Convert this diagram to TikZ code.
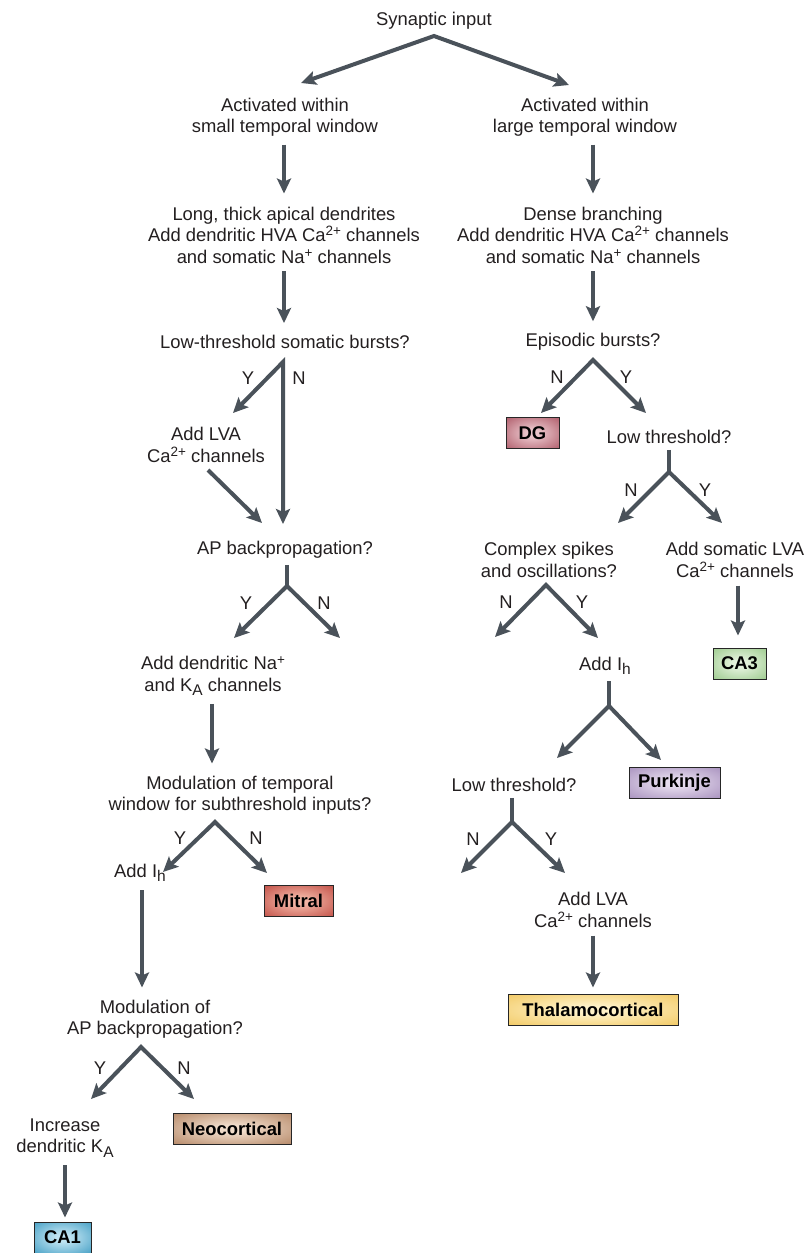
\documentclass[tikz,border=0pt]{standalone}
\usepackage{fontspec}
\setmainfont{Liberation Sans}
\usetikzlibrary{arrows.meta}
\definecolor{arrcol}{HTML}{4A525A}
\definecolor{txtcol}{HTML}{231F20}
\definecolor{dgout}{HTML}{A8505F}
\definecolor{dgin}{HTML}{EAC4CA}
\definecolor{miout}{HTML}{BC443C}
\definecolor{miin}{HTML}{F2B4A4}
\definecolor{neout}{HTML}{AE7E5C}
\definecolor{nein}{HTML}{F0DCCA}
\definecolor{caout}{HTML}{3898C0}
\definecolor{cain}{HTML}{C0E4F2}
\definecolor{cbout}{HTML}{94C684}
\definecolor{cbin}{HTML}{E4F2DC}
\definecolor{pkout}{HTML}{A088B8}
\definecolor{pkin}{HTML}{E6DCEE}
\definecolor{thout}{HTML}{F0C458}
\definecolor{thin}{HTML}{FFF2C8}
\colorlet{shin}{white}
\colorlet{shout}{gray}
\pgfdeclareradialshading[shin,shout]{boxglow}{\pgfpoint{0bp}{0bp}}{color(0bp)=(shin); color(6bp)=(shin); color(40bp)=(shout); color(50bp)=(shout)}
\newcommand\upsup[1]{\raisebox{0.6ex}{\fontsize{13.5}{13.5}\selectfont #1}}
\newcommand\lowsub[1]{\raisebox{-0.45ex}{\fontsize{15.5}{15.5}\selectfont #1}}

\begin{document}
\begin{tikzpicture}[x=1pt,y=-1pt,
  every node/.style={font=\fontsize{18.4}{21.5}\selectfont, text=txtcol},
  txt/.style={align=center, inner sep=0pt},
  yn/.style={inner sep=0pt},
  box/.style={draw=black!85, line width=1pt, font=\fontsize{18.4}{21.5}\selectfont\bfseries, text=black, minimum height=31pt, inner sep=0pt},
  glow/.style 2 args={/utils/exec={\colorlet{shin}{#1}\colorlet{shout}{#2}}, shading=boxglow},
  arr/.style={draw=arrcol, line width=4pt, -{Stealth[length=15pt,width=14pt,inset=3pt]}},
  arrs/.style={draw=arrcol, line width=4pt, {Stealth[length=15pt,width=14pt,inset=3pt]}-{Stealth[length=15pt,width=14pt,inset=3pt]}},
  stem/.style={draw=arrcol, line width=4pt},
  ]
    \useasboundingbox (0,0) rectangle (804,1253);

    \node[txt] (in) at (434,21) {Synaptic input};
    \node[txt] (win1) at (285,117) {Activated within\\small temporal window};
    \node[txt] (win2) at (585,117) {Activated within\\large temporal window};
    \node[txt] (dend1) at (284,235) {Long, thick apical dendrites\\Add dendritic HVA Ca\upsup{2+} channels\\and somatic Na\upsup{+} channels};
    \node[txt] (dend2) at (593,235) {Dense branching\\Add dendritic HVA Ca\upsup{2+} channels\\and somatic Na\upsup{+} channels};
    \node[txt] (sb) at (285,342) {Low-threshold somatic bursts?};
    \node[txt] (lva1) at (206,445) {Add LVA\\Ca\upsup{2+} channels};
    \node[txt] (bap) at (285,550) {AP backpropagation?};
    \node[txt] (na) at (213,676) {Add dendritic Na\upsup{+}\\and K\lowsub{A} channels};
    \node[txt] (modt) at (240,795) {Modulation of temporal\\window for subthreshold inputs?};
    \node[txt] (ih1) at (140,873) {Add I\lowsub{h}};
    \node[txt] (moda) at (155,1019) {Modulation of\\AP backpropagation?};
    \node[txt] (ka) at (65,1138) {Increase\\dendritic K\lowsub{A}};
    \node[txt] (epi) at (593,342) {Episodic bursts?};
    \node[txt] (low1) at (669,437) {Low threshold?};
    \node[txt] (cs) at (549,560) {Complex spikes\\and oscillations?};
    \node[txt] (lva2) at (735,560) {Add somatic LVA\\Ca\upsup{2+} channels};
    \node[txt] (ih2) at (605,666) {Add I\lowsub{h}};
    \node[txt] (low2) at (514,785) {Low threshold?};
    \node[txt] (lva3) at (593,910) {Add LVA\\Ca\upsup{2+} channels};

    \node[box, minimum width=69pt, glow={miin}{miout}] (mitral) at (298.5,901) {Mitral};
    \node[box, minimum width=118pt, glow={nein}{neout}] (neo) at (232,1128.5) {Neocortical};
    \node[box, minimum width=57pt, glow={cain}{caout}] (ca1) at (62.5,1237.5) {CA1};
    \node[box, minimum width=53pt, glow={dgin}{dgout}] (dg) at (532.5,433) {DG};
    \node[box, minimum width=53pt, glow={cbin}{cbout}] (ca3) at (739.5,663.5) {CA3};
    \node[box, minimum width=91pt, glow={pkin}{pkout}] (pk) at (674.5,782.5) {Purkinje};
    \node[box, minimum width=170pt, glow={thin}{thout}] (thal) at (593,1009.5) {Thalamocortical};

    \coordinate (a0) at (434,36);
    \coordinate (a0l) at (301,83);
    \coordinate (a0r) at (569,85);
    \coordinate (a1) at (283,362);
    \coordinate (a1y) at (233,413);
    \coordinate (a1n) at (283,524);
    \coordinate (d0) at (208,470);
    \coordinate (d1) at (262,523);
    \coordinate (j2) at (287,586);
    \coordinate (a2y) at (234,638);
    \coordinate (a2n) at (340,638);
    \coordinate (a3) at (215,822);
    \coordinate (a3y) at (163,872);
    \coordinate (a3n) at (267,873);
    \coordinate (a4) at (141,1047);
    \coordinate (a4y) at (91,1099);
    \coordinate (a4n) at (194,1099);
    \coordinate (b1) at (593,360);
    \coordinate (b1n) at (541,413);
    \coordinate (b1y) at (646,413);
    \coordinate (j5) at (669,472);
    \coordinate (b2n) at (618,523);
    \coordinate (b2y) at (722,523);
    \coordinate (b3) at (546,585);
    \coordinate (b3n) at (495,637);
    \coordinate (b3y) at (598,638);
    \coordinate (j6) at (609,706);
    \coordinate (b4l) at (557,758);
    \coordinate (b4r) at (661,760);
    \coordinate (j7) at (512,822);
    \coordinate (b5n) at (461,873);
    \coordinate (b5y) at (565,873);
    \coordinate (xna) at (212,0);
    \coordinate (xih) at (142,0);
    \coordinate (xlv) at (738,0);

    \node[yn] (y1) at (248,378) {Y};
    \node[yn] (n1) at (299,378) {N};
    \node[yn] (y2) at (246,603) {Y};
    \node[yn] (n2) at (324,603) {N};
    \node[yn] (y3) at (180,838) {Y};
    \node[yn] (n3) at (256,838) {N};
    \node[yn] (y4) at (100,1068) {Y};
    \node[yn] (n4) at (184,1068) {N};
    \node[yn] (n5) at (557,377) {N};
    \node[yn] (y5) at (626,377) {Y};
    \node[yn] (n6) at (631,490) {N};
    \node[yn] (y6) at (705,490) {Y};
    \node[yn] (n7) at (506,602) {N};
    \node[yn] (y7) at (582,602) {Y};
    \node[yn] (n8) at (473,839) {N};
    \node[yn] (y8) at (551,839) {Y};

    \draw[arrs] (a0l) -- (a0) -- (a0r);
    \draw[arr, shorten <=8pt, shorten >=13pt] (win1.south -| dend1) -- (dend1);
    \draw[arr, shorten <=8pt, shorten >=13pt] (win2.south -| dend2) -- (dend2);
    \draw[arr, shorten <=8pt, shorten >=12pt] (dend1) -- (sb.north -| dend1);
    \draw[arr, shorten <=8pt, shorten >=12pt] (dend2) -- (epi);
    \draw[arrs] (a1y) -- (a1) -- (a1n);
    \draw[arr] (d0) -- (d1);
    \draw[stem, shorten <=6pt] (bap.south -| j2) -- (j2);
    \draw[arrs] (a2y) -- (j2) -- (a2n);
    \draw[arr, shorten <=8pt, shorten >=12pt] (na.south -| xna) -- (modt.north -| xna);
    \draw[arrs] (a3y) -- (a3) -- (a3n);
    \draw[arr, shorten <=8pt, shorten >=12pt] (ih1.south -| xih) -- (moda.north -| xih);
    \draw[arrs] (a4y) -- (a4) -- (a4n);
    \draw[arr, shorten <=8pt, shorten >=4pt] (ka) -- (ca1.north -| ka);
    \draw[arrs] (b1n) -- (b1) -- (b1y);
    \draw[stem, shorten <=6pt] (low1) -- (j5);
    \draw[arrs] (b2n) -- (j5) -- (b2y);
    \draw[arr, shorten <=8pt, shorten >=12pt] (lva2.south -| xlv) -- (ca3.north -| xlv);
    \draw[arrs] (b3n) -- (b3) -- (b3y);
    \draw[stem, shorten <=6pt] (ih2.south -| j6) -- (j6);
    \draw[arrs] (b4l) -- (j6) -- (b4r);
    \draw[stem, shorten <=6pt] (low2.south -| j7) -- (j7);
    \draw[arrs] (b5n) -- (j7) -- (b5y);
    \draw[arr, shorten <=8pt, shorten >=6pt] (lva3) -- (thal);

  \end{tikzpicture}
\end{document}
